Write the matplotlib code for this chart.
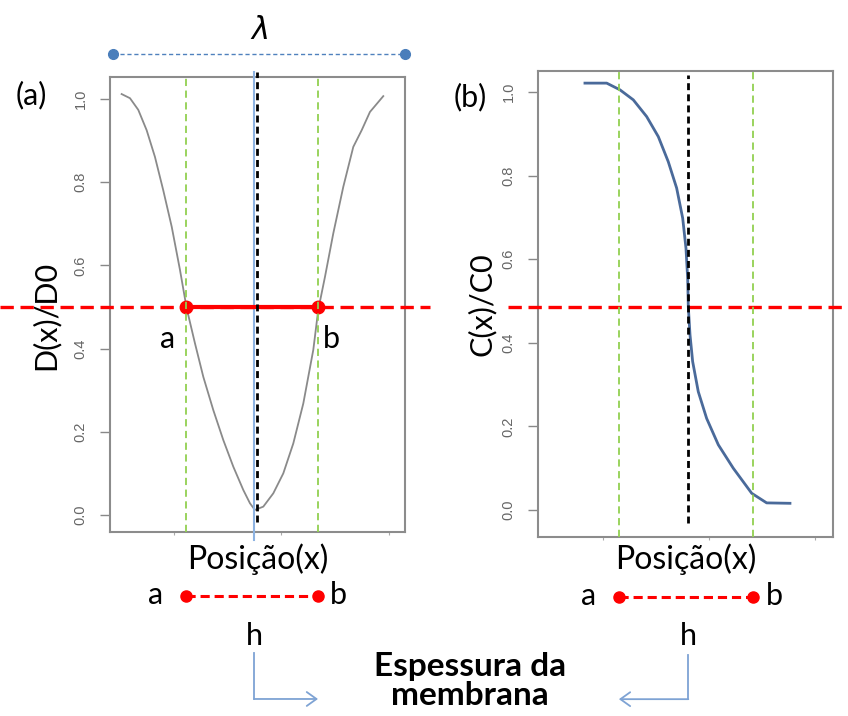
import matplotlib.pyplot as plt

plt.rcParams['font.family'] = ['Lato', 'DejaVu Sans']

# (a) perfil de difusividade D(x)/D0 ao longo da posição
pos_a = [5.13, 5.91, 6.68, 7.46, 8.23, 9.00, 9.79, 10.56, 11.18, 11.95, 12.73,
         13.66, 14.59, 15.52, 16.45, 17.07, 17.53, 18.31, 19.24, 20.17, 21.10,
         22.03, 22.96, 23.42, 24.05, 24.82, 25.75, 26.68, 27.46, 28.23, 29.47]
d_ratio = [1.012, 1.002, 0.974, 0.925, 0.861, 0.781, 0.693, 0.589, 0.497, 0.413, 0.332,
           0.252, 0.180, 0.116, 0.060, 0.028, 0.012, 0.020, 0.052, 0.100, 0.172,
           0.268, 0.397, 0.493, 0.573, 0.677, 0.789, 0.885, 0.925, 0.969, 1.007]

# (b) perfil de concentração C(x)/C0
pos_b = [8.30, 10.35, 11.60, 12.86, 14.12, 15.22, 16.16, 16.95, 17.52, 17.83, 17.99,
         18.05, 18.21, 18.46, 18.99, 19.78, 20.88, 22.29, 24.03, 25.44, 27.64]
c_ratio = [1.021, 1.021, 1.005, 0.981, 0.941, 0.893, 0.833, 0.770, 0.698, 0.626, 0.554,
           0.486, 0.419, 0.355, 0.283, 0.219, 0.156, 0.100, 0.040, 0.017, 0.016]

# pontos a, b e centro de cada painel
a_pos = [11.1, 11.5]
b_pos = [23.4, 24.2]
center_a = 17.7      # linha preta tracejada em (a)
center_a_blue = 17.45
center_b = 18.05
half_level = [0.5, 0.486]
lambda_ends = [4.3, 31.5]
lambda_y = 1.108

y_ticks = [0.0, 0.2, 0.4, 0.6, 0.8, 1.0]
y_tick_labels = ['0.0', '0.2', '0.4', '0.6', '0.8', '1.0']
x_ticks = [10, 20, 30]

RED = '#ff0000'
GREEN = '#92d050'
BLUE = '#4f81bd'
ARROW = '#7ea3d4'

fig = plt.figure(figsize=(8.48, 7.16), dpi=100)
ax_a = fig.add_axes([110 / 848, 1 - 532 / 716, 295 / 848, 455 / 716])
ax_b = fig.add_axes([538 / 848, 1 - 537 / 716, 295 / 848, 466 / 716])

ax_a.set_xlim(4.05, 31.49)
ax_a.set_ylim(-0.041, 1.053)
ax_b.set_xlim(3.87, 31.70)
ax_b.set_ylim(-0.0646, 1.050)

for ax in (ax_a, ax_b):
    ax.set_yticks(y_ticks)
    ax.set_yticklabels(y_tick_labels, rotation=90, va='center', fontsize=10.5,
                       color='#666666', family='Liberation Sans')
    ax.set_xticks(x_ticks)
    ax.set_xticklabels([])
    ax.tick_params(axis='y', length=7, width=1, color='#888888', pad=9)
    ax.tick_params(axis='x', length=2, width=0.8, color='#aaaaaa')
    for s in ax.spines.values():
        s.set_color('#8c8c8c')
        s.set_linewidth(1.5)

# ---- painel (a)
ax_a.plot(pos_a, d_ratio, color='#8a8a8a', lw=1.3, zorder=2)
for x in (a_pos[0], b_pos[0]):
    ax_a.axvline(x, color=GREEN, lw=1.3, ls=(0, (4, 2.5)), zorder=4)
ax_a.plot([center_a_blue, center_a_blue], [-0.06, 1.065], color='#8db3e2', lw=1.5,
          clip_on=False, zorder=3)
ax_a.plot([center_a, center_a], [-0.017, 1.065], color='black', lw=2,
          ls=(0, (2.5, 1.5)), clip_on=False, zorder=5)
ax_a.plot([-6.2, 33.8], [half_level[0]] * 2, color=RED, lw=2.4, ls=(0, (4, 2)),
          clip_on=False, zorder=3)
ax_a.plot([a_pos[0], b_pos[0]], [half_level[0]] * 2, color=RED, lw=3,
          solid_capstyle='butt', zorder=3)
ax_a.plot([a_pos[0], b_pos[0]], [half_level[0]] * 2, ls='none', color=RED,
          marker='o', ms=9, zorder=3)
ax_a.annotate('a', xy=(a_pos[0], half_level[0]), xytext=(-13, -29.5),
              textcoords='offset points', ha='center', va='baseline', fontsize=22)
ax_a.annotate('b', xy=(b_pos[0], half_level[0]), xytext=(9.5, -29.5),
              textcoords='offset points', ha='center', va='baseline', fontsize=22)

# comprimento de onda lambda
ax_a.plot(lambda_ends, [lambda_y] * 2, color=BLUE, lw=1, ls=(0, (3, 2)), clip_on=False)
ax_a.plot(lambda_ends, [lambda_y] * 2, ls='none', marker='o', ms=7, color='#4a7ebb',
          clip_on=False)
ax_a.text(sum(lambda_ends) / 2, 1.165, r'$\lambda$', ha='center', va='center', fontsize=22)

# ---- painel (b)
ax_b.plot(pos_b, c_ratio, color='#4a6a9a', lw=2, zorder=2)
for x in (a_pos[1], b_pos[1]):
    ax_b.axvline(x, color=GREEN, lw=1.3, ls=(0, (4, 2.5)), zorder=4)
ax_b.plot([center_b, center_b], [-0.03, 1.04], color='black', lw=2,
          ls=(0, (2.5, 1.5)), clip_on=False, zorder=5)
ax_b.plot([1.0, 33.2], [half_level[1]] * 2, color=RED, lw=2.4, ls=(0, (4, 2)),
          clip_on=False, zorder=3)


def thickness_marker(ax, xa, xb, xc, x_end, y_seg, y_h, y_top, y_bot):
    """Segmento a-b abaixo do eixo, rótulo h e seta para o texto central."""
    tr = ax.get_xaxis_transform()
    ax.plot([xa, xb], [y_seg, y_seg], transform=tr, color=RED, lw=2.2,
            ls=(0, (3, 1.6)), clip_on=False)
    ax.plot([xa, xb], [y_seg, y_seg], transform=tr, ls='none', marker='o', ms=8,
            color=RED, clip_on=False)
    ax.annotate('a', xy=(xa, y_seg), xycoords=tr, xytext=(-22, -6),
                textcoords='offset points', ha='center', va='baseline', fontsize=22)
    ax.annotate('b', xy=(xb, y_seg), xycoords=tr, xytext=(15, -6),
                textcoords='offset points', ha='center', va='baseline', fontsize=22)
    ax.text(xc, y_h, 'h', transform=tr, ha='center', va='baseline', fontsize=22)
    ax.plot([xc, xc], [y_top, y_bot], transform=tr, color=ARROW, lw=1.3, clip_on=False)
    ax.annotate('', xy=(x_end, y_bot), xycoords=tr, xytext=(xc, y_bot), textcoords=tr,
                arrowprops=dict(arrowstyle='->,head_length=0.7,head_width=0.5',
                                color=ARROW, lw=1.3, shrinkA=0, shrinkB=0))


thickness_marker(ax_a, a_pos[0], b_pos[0], center_a_blue, b_pos[0],
                 -0.1407, -0.248, -0.266, -0.367)
thickness_marker(ax_b, a_pos[1], b_pos[1], center_b, a_pos[1],
                 -0.129, -0.232, -0.253, -0.348)

# textos da figura
fig.text(31 / 848, 1 - 95 / 716, '(a)', ha='center', va='center', fontsize=22)
fig.text(470 / 848, 1 - 97 / 716, '(b)', ha='center', va='center', fontsize=22)
fig.text(45 / 848, 1 - 315 / 716, 'D(x)/D0', rotation=90, ha='center', va='center', fontsize=22)
fig.text(482 / 848, 1 - 304 / 716, 'C(x)/C0', rotation=90, ha='center', va='center', fontsize=22)
fig.text(258 / 848, 1 - 559 / 716, 'Posição(x)', ha='center', va='center', fontsize=23)
fig.text(686 / 848, 1 - 559 / 716, 'Posição(x)', ha='center', va='center', fontsize=23)
fig.text(470 / 848, 1 - 681 / 716, 'Espessura da\nmembrana', ha='center', va='center',
         fontsize=24, fontweight='bold', linespacing=1.0)

fig.savefig('out.png', dpi=100)
